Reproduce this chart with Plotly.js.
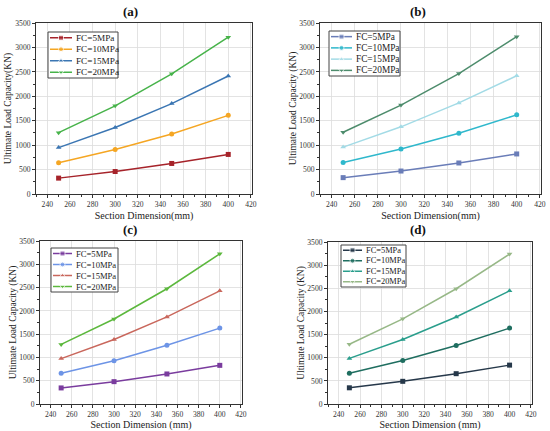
<!DOCTYPE html>
<html><head><meta charset="utf-8">
<script src="https://cdn.plot.ly/plotly-3.0.1.min.js"></script>
<style>html,body{margin:0;padding:0;background:#fff}</style>
</head><body>
<div id="chart" style="width:550px;height:431px"></div>
<script>
const sectionDim = [250, 300, 350, 400];
const seriesNames = ['FC=5MPa', 'FC=10MPa', 'FC=15MPa', 'FC=20MPa'];
const xTicks = [240, 260, 280, 300, 320, 340, 360, 380, 400, 420];
const yTicks = [0, 500, 1000, 1500, 2000, 2500, 3000, 3500];

const panelA = [[325, 460, 625, 810], [640, 910, 1230, 1610], [950, 1360, 1850, 2415], [1255, 1805, 2460, 3210]];
const panelB = [[335, 470, 635, 820], [645, 920, 1245, 1620], [960, 1375, 1865, 2420], [1265, 1820, 2465, 3220]];
const panelC = [[345, 480, 645, 830], [660, 930, 1260, 1630], [975, 1385, 1870, 2430], [1280, 1825, 2475, 3225]];
const panelD = [[350, 490, 655, 840], [665, 940, 1265, 1640], [985, 1395, 1880, 2445], [1290, 1840, 2490, 3240]];

const panelTitles = ['(a)', '(b)', '(c)', '(d)'];
const xTitles = ['Section Dimension(mm)', 'Section Dimension(mm)', 'Section Dimension (mm)', 'Section Dimension (mm)'];
const yTitles = ['Ultimate Load Capacity(KN)', 'Ultimate Load Capacity (KN)', 'Ultimate Load Capacity (KN)', 'Ultimate Load Capacity (KN)'];

const colorsA = ['#a6232a', '#f5a623', '#3b76b3', '#47b34a'];
const colorsB = ['#6a7db8', '#2fb8cc', '#a3dbe6', '#4d8c6c'];
const colorsC = ['#7a3c9e', '#6d94e6', '#c9675c', '#5cb83d'];
const colorsD = ['#26384a', '#1f6e60', '#2a9e8c', '#97b887'];
const symbols = ['square', 'circle', 'triangle-up', 'triangle-down'];

const panels = [panelA, panelB, panelC, panelD];
const colors = [colorsA, colorsB, colorsC, colorsD];

const W = 550, H = 431;
const boxes = [ // pixel boxes [x0,x1,y0,y1]
  [36, 252, 23, 194],
  [320, 541, 23, 194],
  [40, 242, 241, 404],
  [328, 532, 242, 404]
];
const legendBoxes = [ // [x0,x1,y0,y1] pixels
  [48, 118, 32, 78],
  [329, 400, 31, 76],
  [51, 118, 248, 292],
  [341, 406, 245, 287]
];
const legendTextOffset = [26, 25, 23, 23];
const legendFont = [9.2, 9.3, 8.6, 8.4];
const titlePos = [[130, 12], [418, 12], [130, 230], [418, 230]];
const yStandoff = [1, 0, 0, 0];

const font = 'Liberation Serif, Times New Roman, serif';
const data = [];
const legendTraces = [];
const layout = {
  width: W, height: H, margin: {l: 0, r: 0, t: 0, b: 0},
  paper_bgcolor: '#fff', plot_bgcolor: 'rgba(0,0,0,0)',
  font: {family: font, color: '#222'},
  showlegend: false,
  annotations: [], shapes: [],
  xaxis5: {domain: [0, 1], range: [0, W], visible: false, fixedrange: true, anchor: 'y5'},
  yaxis5: {domain: [0, 1], range: [H, 0], visible: false, fixedrange: true, anchor: 'x5'}
};

panels.forEach((panel, p) => {
  const sfx = p === 0 ? '' : String(p + 1);
  const b = boxes[p];
  const axCommon = {
    showline: true, mirror: true, linecolor: '#333', linewidth: 1,
    ticks: 'outside', ticklen: 3, tickcolor: '#333', tickwidth: 1,
    showgrid: true, gridcolor: '#dcdcdc', gridwidth: 0.8,
    zeroline: false, tickfont: {family: font, size: 7.6, color: '#333'},
    automargin: false
  };
  layout['xaxis' + sfx] = Object.assign({}, axCommon, {
    domain: [b[0] / W, b[1] / W], anchor: 'y' + sfx,
    range: [230, 421], tickvals: xTicks, ticktext: xTicks.map(String),
    minor: {ticks: 'outside', ticklen: 2, tickcolor: '#333', showgrid: false, dtick: 10, tick0: 230},
    title: {text: xTitles[p], font: {family: font, size: 10, color: '#222'}, standoff: 3}
  });
  layout['yaxis' + sfx] = Object.assign({}, axCommon, {
    domain: [1 - b[3] / H, 1 - b[2] / H], anchor: 'x' + sfx,
    range: [0, 3500], tickvals: yTicks, ticktext: yTicks.map(String),
    minor: {ticks: 'outside', ticklen: 2, tickcolor: '#333', showgrid: false, dtick: 250, tick0: 0},
    title: {text: yTitles[p], font: {family: font, size: 9.5, color: '#222'}, standoff: yStandoff[p]}
  });
  layout.annotations.push({
    text: '<b>' + panelTitles[p] + '</b>', x: titlePos[p][0] / W, y: 1 - titlePos[p][1] / H,
    xref: 'paper', yref: 'paper', showarrow: false, xanchor: 'center', yanchor: 'middle',
    font: {family: font, size: 13, color: '#111'}
  });

  // custom legend box
  const lb = legendBoxes[p];
  const to = legendTextOffset[p];
  layout.shapes.push({
    type: 'rect', xref: 'x5', yref: 'y5', x0: lb[0], x1: lb[1], y0: lb[2], y1: lb[3],
    fillcolor: '#fff', line: {color: '#444', width: 1}, layer: 'below'
  });
  const rowH = (lb[3] - lb[2]) / 4;

  panel.forEach((vals, s) => {
    data.push({
      type: 'scatter', mode: 'lines+markers',
      x: sectionDim, y: vals, name: seriesNames[s],
      xaxis: 'x' + sfx, yaxis: 'y' + sfx,
      line: {color: colors[p][s], width: 1.5},
      marker: {symbol: symbols[s], size: 5, color: colors[p][s]}
    });
    const ry = lb[2] + rowH * (s + 0.5);
    legendTraces.push({
      type: 'scatter', mode: 'lines+markers', hoverinfo: 'skip',
      x: [lb[0] + 2, lb[0] + to / 2, lb[0] + to - 2], y: [ry, ry, ry],
      xaxis: 'x5', yaxis: 'y5',
      line: {color: colors[p][s], width: 1.5},
      marker: {symbol: symbols[s], size: [0, 5, 0], color: colors[p][s]}
    });
    layout.annotations.push({
      text: seriesNames[s], xref: 'x5', yref: 'y5', x: lb[0] + to, y: ry,
      xanchor: 'left', yanchor: 'middle', showarrow: false,
      font: {family: font, size: legendFont[p], color: '#222'}
    });
  });
});

Plotly.newPlot('chart', data.concat(legendTraces), layout, {displayModeBar: false, staticPlot: true});
</script>
</body></html>
